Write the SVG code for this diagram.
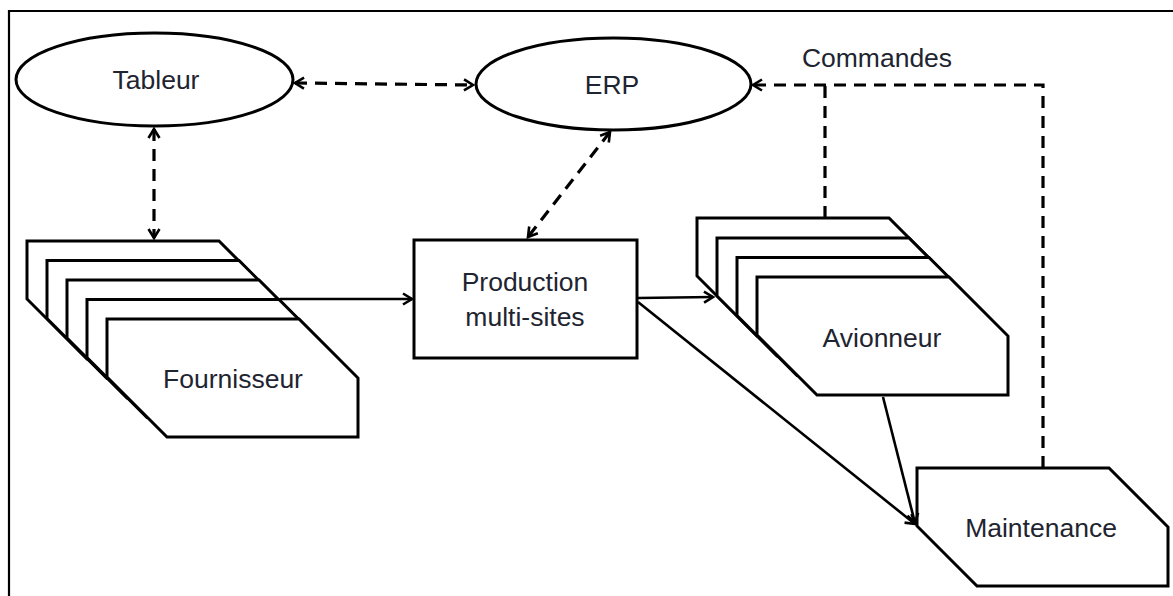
<svg xmlns="http://www.w3.org/2000/svg" xmlns:xlink="http://www.w3.org/1999/xlink" width="1173" height="596" viewBox="0 0 1173 596">
<style>
.shape{fill:#fff;stroke:#000;stroke-width:3;stroke-linejoin:miter}
.lbl{font-family:"Liberation Sans",Arial,sans-serif;font-size:26.5px;fill:#1e2430;text-anchor:middle}
.solid{fill:none;stroke:#000;stroke-width:2.6}
.dash{fill:none;stroke:#000;stroke-width:3.2;stroke-dasharray:12 8}
</style>
<defs>
<path id="card" d="M0,0 H192 L251,59 V118 H60 L0,58 Z"/>
<marker id="arr" markerUnits="userSpaceOnUse" markerWidth="16" markerHeight="16" refX="12" refY="7" orient="auto-start-reverse" viewBox="0 0 16 16">
<path d="M3,1.5 L12,7 L3,12.5" fill="none" stroke="#000" stroke-width="2.6" stroke-dasharray="none"/>
</marker>
</defs>
<rect width="1173" height="596" fill="#fff"/>
<path d="M9,600 V11 H1173" fill="none" stroke="#000" stroke-width="2.2"/>

<g id="tableur">
<ellipse class="shape" cx="154.5" cy="79.5" rx="138.5" ry="46.5"/>
<text class="lbl" x="156" y="89">Tableur</text>
</g>
<g id="erp">
<ellipse class="shape" cx="613.5" cy="84" rx="137.5" ry="46"/>
<text class="lbl" x="612" y="94">ERP</text>
</g>
<g id="fournisseur">
<use href="#card" class="shape" x="27" y="241"/>
<use href="#card" class="shape" x="47" y="260.5"/>
<use href="#card" class="shape" x="67" y="280"/>
<use href="#card" class="shape" x="87" y="299.5"/>
<use href="#card" class="shape" x="107" y="319"/>
<text class="lbl" x="233" y="388">Fournisseur</text>
</g>
<g id="production">
<rect class="shape" x="414" y="240" width="223" height="118"/>
<text class="lbl" x="525" y="291">Production</text>
<text class="lbl" x="525" y="326">multi-sites</text>
</g>
<g id="avionneur">
<use href="#card" class="shape" x="697" y="218"/>
<use href="#card" class="shape" x="717" y="238"/>
<use href="#card" class="shape" x="737" y="257.5"/>
<use href="#card" class="shape" x="757" y="277"/>
<text class="lbl" x="882" y="347">Avionneur</text>
</g>
<g id="maintenance">
<use href="#card" class="shape" x="917" y="468"/>
<text class="lbl" x="1041" y="537">Maintenance</text>
</g>
<text id="commandes" class="lbl" x="877" y="67">Commandes</text>

<g id="connectors">
<path class="dash" d="M295,83 L473,85" marker-start="url(#arr)" marker-end="url(#arr)"/>
<path class="dash" d="M154,129 V238" marker-start="url(#arr)" marker-end="url(#arr)"/>
<path class="dash" d="M610,132 L528,237" marker-start="url(#arr)" marker-end="url(#arr)"/>
<path class="dash" d="M1043,468 V85 H753" marker-end="url(#arr)"/>
<path class="dash" d="M825,218 V86"/>
<path class="solid" d="M280,299 H412" marker-end="url(#arr)"/>
<path class="solid" d="M638,298 L713,297" marker-end="url(#arr)"/>
<path class="solid" d="M638,302 L915,524" marker-end="url(#arr)"/>
<path class="solid" d="M883,397 L915,523" marker-end="url(#arr)"/>
</g>
</svg>
